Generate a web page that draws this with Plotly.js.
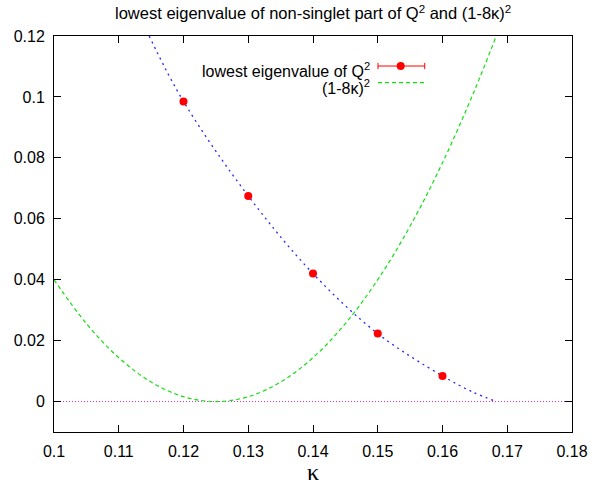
<!DOCTYPE html>
<html>
<head>
<meta charset="utf-8">
<script src="https://cdn.plot.ly/plotly-3.0.1.min.js"></script>
<style>html,body{margin:0;padding:0;background:#fff;}#chart{width:592px;height:488px;}</style>
</head>
<body>
<div id="chart"></div>
<script>
// measured lowest eigenvalue of non-singlet part of Q^2
var kappa = [0.12, 0.13, 0.14, 0.15, 0.16];
var eigen = [0.0985, 0.0675, 0.0420, 0.0223, 0.0084];
var eigenErr = [0.0003, 0.0003, 0.0003, 0.0003, 0.0003];
// blue dotted fit curve
var fitK = [0.1147, 0.12, 0.13, 0.14, 0.15, 0.16, 0.1647, 0.1683];
var fitY = [0.1200, 0.0985, 0.0675, 0.0420, 0.0223, 0.0084, 0.0031, 0.0000];
// green dashed (1-8k)^2 curve
var curveK = [0.100, 0.105, 0.110, 0.115, 0.120, 0.125, 0.130, 0.135, 0.140, 0.145, 0.150, 0.155, 0.160, 0.165, 0.1683];
var curveY = [0.0400, 0.0256, 0.0144, 0.0064, 0.0016, 0.0000, 0.0016, 0.0064, 0.0144, 0.0256, 0.0400, 0.0576, 0.0784, 0.1024, 0.1200];
// zero axis
var zeroK = [0.10, 0.18];
var zeroY = [0, 0];
var xTicks = [0.1, 0.11, 0.12, 0.13, 0.14, 0.15, 0.16, 0.17, 0.18];
var xTickText = ['0.1', '0.11', '0.12', '0.13', '0.14', '0.15', '0.16', '0.17', '0.18'];
var yTicks = [0, 0.02, 0.04, 0.06, 0.08, 0.1, 0.12];
var yTickText = ['0', '0.02', '0.04', '0.06', '0.08', '0.1', '0.12'];

var FONT = 'Liberation Sans, Arial, Helvetica, sans-serif';
var RED = '#ff0000', GREEN = '#11e011', BLUE = '#2a2aff', MAG = '#cc33cc';

var traces = [
  {x: zeroK, y: zeroY, mode: 'lines', line: {color: MAG, width: 1, dash: '1px,2px'}, hoverinfo: 'skip'},
  {x: curveK, y: curveY, mode: 'lines', line: {color: GREEN, width: 1.2, dash: '4px,3px', shape: 'spline'}},
  {x: fitK, y: fitY, mode: 'lines', line: {color: BLUE, width: 1.3, dash: '2px,4px', shape: 'spline'}},
  {x: kappa, y: eigen, mode: 'markers', marker: {color: RED, size: 8},
   error_y: {type: 'data', array: eigenErr, color: RED, thickness: 1, width: 3}}
];

// legend geometry in paper coords
var lx0 = 0.6255, lx1 = 0.7157, ly1 = 0.9242, ly2 = 0.8823;
var shapes = [
  {type: 'line', xref: 'paper', yref: 'paper', x0: lx0, x1: lx1, y0: ly1, y1: ly1, line: {color: RED, width: 1}},
  {type: 'line', xref: 'paper', yref: 'paper', x0: lx0, x1: lx0, y0: ly1 - 0.008, y1: ly1 + 0.008, line: {color: RED, width: 1}},
  {type: 'line', xref: 'paper', yref: 'paper', x0: lx1, x1: lx1, y0: ly1 - 0.008, y1: ly1 + 0.008, line: {color: RED, width: 1}},
  {type: 'circle', xref: 'paper', yref: 'paper', xsizemode: 'pixel', ysizemode: 'pixel',
   xanchor: 0.6693, yanchor: ly1, x0: -4, x1: 4, y0: -4, y1: 4, fillcolor: RED, line: {color: RED, width: 0}},
  {type: 'line', xref: 'paper', yref: 'paper', x0: lx0, x1: lx1, y0: ly2, y1: ly2, line: {color: GREEN, width: 1.2, dash: '4px,3px'}}
];

var annotations = [
  {xref: 'paper', yref: 'paper', x: 0.6147, y: 0.915, xanchor: 'right', yanchor: 'middle', showarrow: false,
   text: 'lowest eigenvalue of Q<sup>2</sup>', font: {family: FONT, size: 16, color: '#000'}},
  {xref: 'paper', yref: 'paper', x: 0.6147, y: 0.872, xanchor: 'right', yanchor: 'middle', showarrow: false,
   text: '(1-8κ)<sup>2</sup>', font: {family: FONT, size: 16, color: '#000'}},
  {xref: 'paper', yref: 'paper', x: 0.5, y: -0.1, xanchor: 'center', yanchor: 'middle', showarrow: false,
   text: 'κ', font: {family: 'Liberation Serif, serif', size: 24, color: '#000'}}
];

var layout = {
  width: 592, height: 488,
  margin: {l: 54.3, r: 19.7, t: 35.7, b: 56.3},
  paper_bgcolor: '#fff', plot_bgcolor: '#fff',
  showlegend: false,
  font: {family: FONT, size: 16, color: '#000'},
  title: {text: 'lowest eigenvalue of non-singlet part of Q<sup>2</sup> and (1-8κ)<sup>2</sup>',
          font: {family: FONT, size: 16.5, color: '#000'}, x: 0.529, xanchor: 'center', y: 0.972, yanchor: 'middle'},
  xaxis: {range: [0.1, 0.18], tickvals: xTicks, ticktext: xTickText, ticks: 'inside', ticklen: 7, tickcolor: '#000',
          showline: true, linecolor: '#000', linewidth: 1, mirror: 'ticks', showgrid: false, zeroline: false,
          tickfont: {family: FONT, size: 16}, ticklabelstandoff: 5},
  yaxis: {range: [-0.01, 0.12], tickvals: yTicks, ticktext: yTickText, ticks: 'inside', ticklen: 7, tickcolor: '#000',
          showline: true, linecolor: '#000', linewidth: 1, mirror: 'ticks', showgrid: false, zeroline: false,
          tickfont: {family: FONT, size: 16}, ticklabelstandoff: 5},
  shapes: shapes,
  annotations: annotations
};

Plotly.newPlot('chart', traces, layout, {staticPlot: true, displayModeBar: false});
</script>
</body>
</html>
